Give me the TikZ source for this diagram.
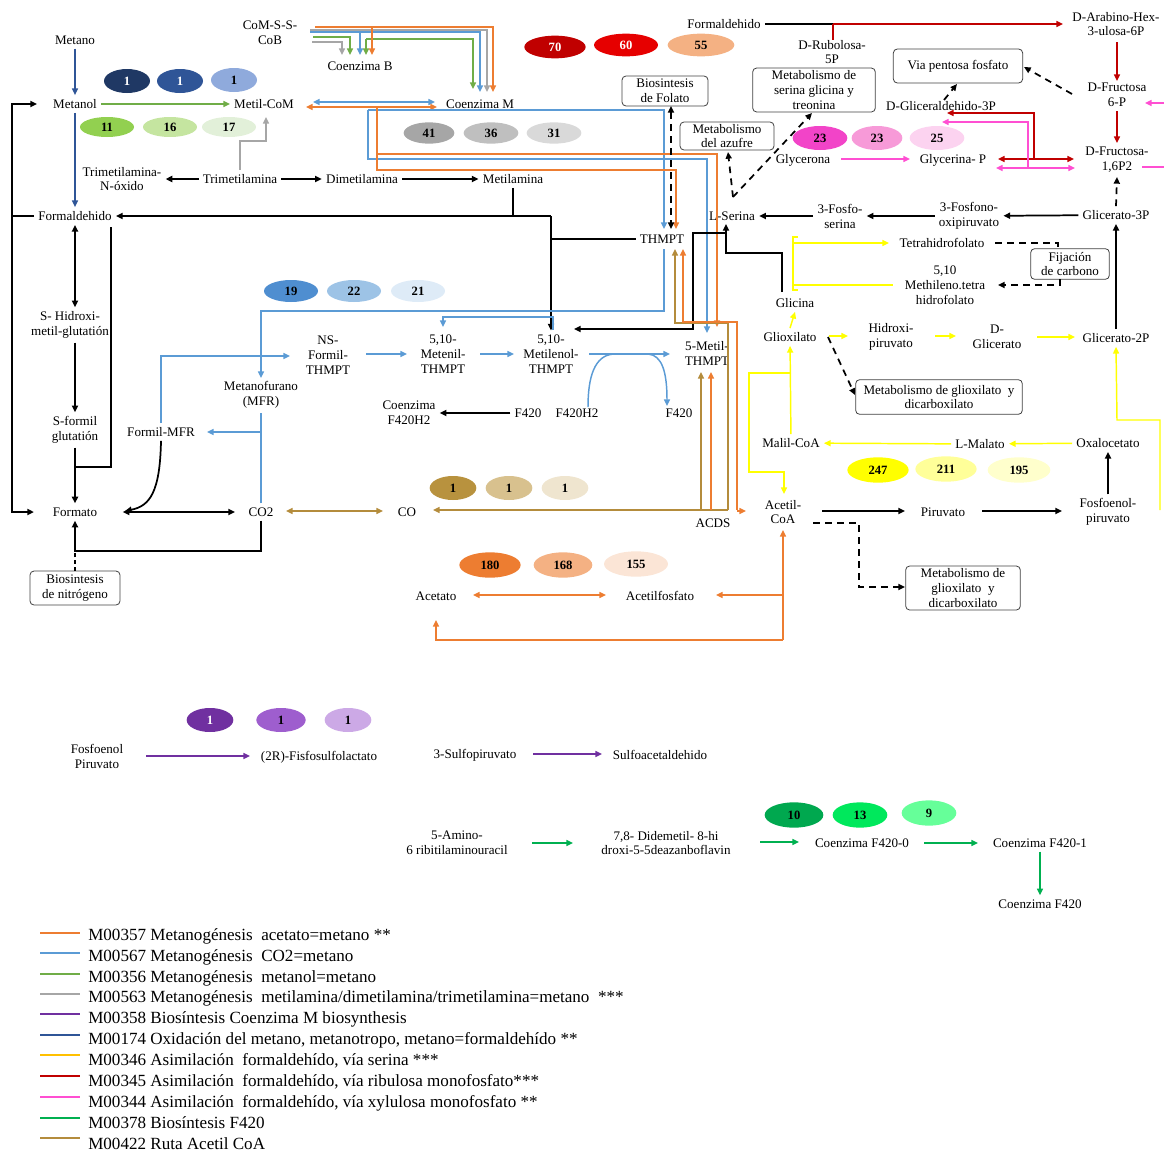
\documentclass[tikz,border=0pt]{standalone}
\usepackage{fontspec}
\setmainfont{Liberation Serif}
\usetikzlibrary{arrows.meta,shapes.geometric}
\definecolor{kOr}{HTML}{ED7D31}
\definecolor{kBl}{HTML}{5B9BD5}
\definecolor{kGr}{HTML}{70AD47}
\definecolor{kGy}{HTML}{A6A6A6}
\definecolor{kPu}{HTML}{7030A0}
\definecolor{kNv}{HTML}{2F5597}
\definecolor{kYe}{HTML}{FFFF00}
\definecolor{kYl}{HTML}{FFC000}
\definecolor{kRd}{HTML}{C00000}
\definecolor{kPk}{HTML}{FF4FD2}
\definecolor{kGn}{HTML}{00B050}
\definecolor{kBr}{HTML}{B48C3C}
% ellipse fills
\definecolor{q1}{HTML}{1F3864}\definecolor{q2}{HTML}{2F5597}\definecolor{q3}{HTML}{8FAADC}
\definecolor{q4}{HTML}{92D050}\definecolor{q5}{HTML}{C5E5A0}\definecolor{q6}{HTML}{E2F0D9}
\definecolor{q7}{HTML}{A6A6A6}\definecolor{q8}{HTML}{BFBFBF}\definecolor{q9}{HTML}{D9D9D9}
\definecolor{q10}{HTML}{C00000}\definecolor{q11}{HTML}{E60000}\definecolor{q12}{HTML}{F4B183}
\definecolor{q13}{HTML}{F244C8}\definecolor{q14}{HTML}{F79AD8}\definecolor{q15}{HTML}{FCD3F0}
\definecolor{q16}{HTML}{4F8ED0}\definecolor{q17}{HTML}{9DC3E6}\definecolor{q18}{HTML}{DEEBF7}
\definecolor{q19}{HTML}{B8923E}\definecolor{q20}{HTML}{D8C18E}\definecolor{q21}{HTML}{EFE5CF}
\definecolor{q22}{HTML}{ED7D31}\definecolor{q23}{HTML}{F4B183}\definecolor{q24}{HTML}{FBE5D6}
\definecolor{q25}{HTML}{FFFF00}\definecolor{q26}{HTML}{FFFF99}\definecolor{q27}{HTML}{FFFFCC}
\definecolor{q28}{HTML}{7030A0}\definecolor{q29}{HTML}{9E5ECE}\definecolor{q30}{HTML}{CCA9E6}
\definecolor{q31}{HTML}{00A84F}\definecolor{q32}{HTML}{00E85C}\definecolor{q33}{HTML}{66FF99}
\newcommand\txtf{\fontsize{9.8}{11.2}\selectfont}
\newcommand\legf{\fontsize{12.8}{15}\selectfont}
\begin{document}
\begin{tikzpicture}[x=0.75pt,y=-0.75pt,
  t/.style={font=\txtf,align=center,inner sep=3pt},
  bx/.style={draw=black!75,rounded corners=3pt,line width=0.6pt,font=\txtf,align=center,inner sep=1pt},
  el/.style n args={4}{ellipse,fill=#1,minimum width=#2,minimum height=#3,inner sep=0pt,text=#4,font=\bfseries\fontsize{9.5}{10}\selectfont},
  arr/.style={-{Triangle[length=5pt,width=4.5pt]}},
  darr/.style={{Triangle[length=5pt,width=4.5pt]}-{Triangle[length=5pt,width=4.5pt]}},
  sBk/.style={draw=black,line width=1.3pt},
  sDs/.style={draw=black,line width=1.3pt,dash pattern=on 5pt off 4pt},
  sOr/.style={draw=kOr,line width=1.1pt},
  sBl/.style={draw=kBl,line width=1.1pt},
  sGr/.style={draw=kGr,line width=1.1pt},
  sGy/.style={draw=kGy,line width=1.1pt},
  sPu/.style={draw=kPu,line width=1.1pt},
  sNv/.style={draw=kNv,line width=1.1pt},
  sYe/.style={draw=kYe,line width=1.1pt},
  sRd/.style={draw=kRd,line width=1.1pt},
  sPk/.style={draw=kPk,line width=1.1pt},
  sGn/.style={draw=kGn,line width=1.1pt},
  sBr/.style={draw=kBr,line width=1.1pt},
  lg/.style={font=\legf,anchor=west,inner sep=0pt}
]
\useasboundingbox (0,0) rectangle (1164,1153);

% ---------------- nodes ----------------
\node[t] (metano) at (75,40) {Metano};
\node[t] (metanol) at (75,104) {Metanol};
\node[t] (metilcom) at (264,104) {Metil-CoM};
\node[t] (tmao) at (122,179) {Trimetilamina-\\N-óxido};
\node[t] (tma) at (240,179) {Trimetilamina};
\node[t] (dma) at (362,179) {Dimetilamina};
\node[t] (mma) at (513,179) {Metilamina};
\node[t] (form) at (75,216) {Formaldehido};
\node[t] (cosscob) at (270,33) {CoM-S-S-\\CoB};
\node[t] (coB) at (360,66) {Coenzima B};
\node[t] (coM) at (480,104) {Coenzima M};
\node[t] (thmpt) at (662,239) {THMPT};
\node[t] (formtop) at (724,24) {Formaldehido};
\node[t] (rubulosa) at (832,52) {D-Rubolosa-\\5P};
\node[t] (arabino) at (1116,24) {D-Arabino-Hex-\\3-ulosa-6P};
\node[t] (fru6p) at (1117,95) {D-Fructosa\\6-P};
\node[t] (fru16) at (1117,160) {D-Fructosa-\\1,6P2};
\node[t] (gliceral) at (941,106) {D-Gliceraldehido-3P};
\node[t] (glycerona) at (803,160) {Glycerona};
\node[t] (glycerinap) at (953,160) {Glycerina- P};
\node[t] (lserina) at (732,216) {L-Serina};
\node[t] (fosfoserina) at (840,216) {3-Fosfo-\\serina};
\node[t] (fosfonoox) at (969,216) {3-Fosfono-\\oxipiruvato};
\node[t] (glic3p) at (1116,215) {Glicerato-3P};
\node[t] (thf) at (942,243) {Tetrahidrofolato};
\node[t] (mthf) at (945,285) {5,10\\Methileno.tetra\\hidrofolato};
\node[t] (glicina) at (795,303) {Glicina};
\node[t] (glioxilato) at (790,337) {Glioxilato};
\node[t] (hidroxipir) at (891,337) {Hidroxi-\\piruvato};
\node[t] (dglicerato) at (997,337) {D-\\Glicerato};
\node[t] (glic2p) at (1116,338) {Glicerato-2P};
\node[t] (malilcoa) at (791,443) {Malil-CoA};
\node[t] (lmalato) at (980,444) {L-Malato};
\node[t] (oxalo) at (1108,443) {Oxalocetato};
\node[t] (acetilcoa) at (783,512) {Acetil-\\CoA};
\node[t] (piruvato) at (943,512) {Piruvato};
\node[t] (pep) at (1108,512) {Fosfoenol-\\piruvato};
\node[t] (shidroxi) at (70,325) {S- Hidroxi-\\metil-glutatión};
\node[t] (sformil) at (75,430) {S-formil\\glutatión};
\node[t] (formato) at (75,512) {Formato};
\node[t] (formilmfr) at (161,432) {Formil-MFR};
\node[t] (mfr) at (261,395) {Metanofurano\\(MFR)};
\node[t] (co2) at (261,512) {CO2};
\node[t] (nsformil) at (328,355) {NS-\\Formil-\\THMPT};
\node[t] (metenil) at (443,354) {5,10-\\Metenil-\\THMPT};
\node[t] (metilenol) at (551,354) {5,10-\\Metilenol-\\THMPT};
\node[t] (metilthmpt) at (707,353) {5-Metil-\\THMPT};
\node[t] (cof420h2) at (409,413) {Coenzima\\F420H2};
\node[t] (f420a) at (528,413) {F420};
\node[t] (f420h2) at (577,413) {F420H2};
\node[t] (f420b) at (679,413) {F420};
\node[t] (co) at (407,512) {CO};
\node[t] (acds) at (713,523) {ACDS};
\node[t] (acetato) at (436,596) {Acetato};
\node[t] (acetilfosfato) at (660,596) {Acetilfosfato};
\node[t] (pep2) at (97,756) {Fosfoenol\\Piruvato};
\node[t] (fisfo) at (319,757) {(2R)-Fisfosulfolactato};
\node[t] (sulfopir) at (475,755) {3-Sulfopiruvato};
\node[t] (sulfoacet) at (660,755) {Sulfoacetaldehido};
\node[t] (amino) at (457,843) {5-Amino-\\6 ribitilaminouracil};
\node[t] (didemetil) at (666,843) {7,8- Didemetil- 8-hi\\droxi-5-5deazanboflavin};
\node[t] (f4200) at (862,843) {Coenzima F420-0};
\node[t] (f4201) at (1040,843) {Coenzima F420-1};
\node[t] (f420) at (1040,904) {Coenzima F420};

% boxes
\node[bx,minimum width=64.5pt,minimum height=22.5pt] (folato) at (665,91) {Biosintesis\\de Folato};
\node[bx,minimum width=70.5pt,minimum height=21pt] (azufre) at (727,136) {Metabolismo\\del azufre};
\node[bx,minimum width=92pt,minimum height=33pt] (serbox) at (814,90) {Metabolismo de\\serina glicina y\\treonina};
\node[bx,minimum width=97pt,minimum height=25.5pt] (pentosa) at (958,66) {Via pentosa fosfato};
\node[bx,minimum width=59pt,minimum height=23pt] (fijacion) at (1070,264) {Fijación\\de carbono};
\node[bx,minimum width=125pt,minimum height=26pt] (gbox1) at (939,397) {Metabolismo de glioxilato~ y\\dicarboxilato};
\node[bx,minimum width=86pt,minimum height=33pt] (gbox2) at (963,588) {Metabolismo de\\glioxilato~ y\\dicarboxilato};
\node[bx,minimum width=67.5pt,minimum height=25.5pt] (nitro) at (75,588) {Biosintesis\\de nitrógeno};

% ellipses
\node[el={q1}{34.5pt}{18pt}{white}] (e1) at (127,81) {1};
\node[el={q2}{34.5pt}{18pt}{white}] (e2) at (180,81) {1};
\node[el={q3}{34.5pt}{18pt}{black}] (e3) at (234,80) {1};
\node[el={q4}{40.5pt}{15pt}{black}] (e4) at (107,127) {11};
\node[el={q5}{40.5pt}{15pt}{black}] (e5) at (170,127) {16};
\node[el={q6}{40.5pt}{15pt}{black}] (e6) at (229,127) {17};
\node[el={q7}{38pt}{16pt}{black}] (e7) at (429,133) {41};
\node[el={q8}{41pt}{16pt}{black}] (e8) at (491,133) {36};
\node[el={q9}{41pt}{16pt}{black}] (e9) at (554,133) {31};
\node[el={q10}{46pt}{17pt}{white}] (e10) at (555,47) {70};
\node[el={q11}{48pt}{17pt}{white}] (e11) at (626,45) {60};
\node[el={q12}{50pt}{17pt}{black}] (e12) at (701,45) {55};
\node[el={q13}{41pt}{18pt}{black}] (e13) at (820,138) {23};
\node[el={q14}{38pt}{18pt}{black}] (e14) at (877,138) {23};
\node[el={q15}{41pt}{18pt}{black}] (e15) at (937,138) {25};
\node[el={q16}{40.5pt}{16.5pt}{black}] (e16) at (291,291) {19};
\node[el={q17}{40.5pt}{16.5pt}{black}] (e17) at (354,291) {22};
\node[el={q18}{40.5pt}{16.5pt}{black}] (e18) at (418,291) {21};
\node[el={q19}{35pt}{18pt}{black}] (e19) at (453,488) {1};
\node[el={q20}{35pt}{18pt}{black}] (e20) at (509,488) {1};
\node[el={q21}{35pt}{18pt}{black}] (e21) at (565,488) {1};
\node[el={q22}{46pt}{19pt}{black}] (e22) at (490,565) {180};
\node[el={q23}{44pt}{19pt}{black}] (e23) at (563,565) {168};
\node[el={q24}{48pt}{19pt}{black}] (e24) at (636,564) {155};
\node[el={q25}{46pt}{19pt}{black}] (e25) at (878,470) {247};
\node[el={q26}{46pt}{19pt}{black}] (e26) at (946,469) {211};
\node[el={q27}{47pt}{19pt}{black}] (e27) at (1019,470) {195};
\node[el={q28}{35pt}{18pt}{white}] (e28) at (210,720) {1};
\node[el={q29}{37pt}{18pt}{black}] (e29) at (281,720) {1};
\node[el={q30}{35pt}{18pt}{black}] (e30) at (348,720) {1};
\node[el={q31}{44pt}{19pt}{black}] (e31) at (794,815) {10};
\node[el={q32}{41pt}{19pt}{black}] (e32) at (860,815) {13};
\node[el={q33}{41pt}{19pt}{black}] (e33) at (929,813) {9};

% ---------------- connectors ----------------
% methane oxidation (navy)
\draw[sNv,arr] (metano) -- (metanol);
\draw[sNv,arr] (metanol) -- (form);
% methanol (green)
\draw[sGr,arr] (metanol) -- (metilcom);
% methylamines (gray)
\draw[sGy,arr] (tma.north) |- (266,141) -- (266,117);
\draw[sBk,arr] (tma) -- (tmao);
\draw[sBk,arr] (tma) -- (dma);
\draw[sBk,arr] (dma) -- (mma);
% black trunk
\coordinate (jA) at (551,216);
\draw[sBk] (mma.south) -- (513,216);
\draw[sBk,arr] (jA) -- (form.east);
\draw[sBk,arr] (jA) -- (metilenol.north);
\draw[sBk] (thmpt.west) -- (551,239);
\coordinate (jL) at (12,216);
\draw[sBk] (form.west) -- (jL);
\draw[sBk,arr,shorten >=9pt] (jL) |- (metanol.west);
\draw[sBk,arr,shorten >=11pt] (jL) |- (formato.west);
\draw[sBk,darr] (form.south) -- (form.south |- shidroxi.north);
\draw[sBk,arr] (sformil.north |- shidroxi.south) -- (sformil.north);
\draw[sBk,arr] (sformil) -- (formato);
\draw[sBk] (111,227) -- (111,467) -- (75,467);
\draw[sBk,arr] (formilmfr.south) .. controls (160,492) and (150,506) .. (125,511);
\draw[sBk,darr,shorten <=16pt,shorten >=7pt] (formato) -- (co2);
\draw[sBk,arr] (co2.south) |- (75,551) -- (formato.south);
\draw[sBk,densely dashed,line width=1pt] (nitro.north) -- (75,551);

% CoM-S-S-CoB distribution
\draw[sGy,arr] (312,42) -- (342,42) -- (342,55);
\draw[sGr,arr] (313,37) -- (350,37) -- (350,55);
\draw[sBl,arr] (310,32) -- (480,32) -- (480,92);
\draw[sBl,arr] (360,32) -- (360,55);
\draw[sGr,arr] (366,39) -- (366,55);
\draw[sGr,arr] (366,39) -- (473,39) -- (473,89);
\draw[sGy,arr] (310,30) -- (487,30) -- (487,92);
\draw[sOr,arr] (315,27) -- (493,27) -- (493,92);
\draw[sOr,arr] (372,27) -- (372,55);
% Metil-CoM <-> Coenzima M
\draw[sBl,darr] (313,102) -- (435,102);
\draw[sOr,darr] (306,107) -- (437,107);
% long routes to THMPT
\draw[sBl,arr] (368,110) -- (664,110) -- (664,229);
\draw[sBl,arr] (368,110) -- (368,159) -- (707,159) -- (707,333);
\draw[sOr,arr] (377,107) -- (377,170) -- (676,170) -- (676,229);
\draw[sOr,arr] (377,154) -- (717,154) -- (717,327);
\draw[sDs,darr] (671,106) -- (671,229);
% CO2 reduction (blue)
\draw[sBl] (co2.north) -- (mfr.south);
\draw[sBl,arr] (261,432) -- (207,432);
\draw[sBl,arr] (formilmfr.north) |- (290,356);
\draw[sBl,arr] (366,354) -- (407,354);
\draw[sBl,arr] (480,354) -- (514,354);
\draw[sBl,arr] (589,354) -- (670,354);
\draw[sBl] (588,407) .. controls (588,378) and (594,355) .. (614,354);
\draw[sBl,arr] (648,354) .. controls (662,355) and (667,372) .. (667,406);
\draw[sBl,arr] (553,330) -- (553,317) -- (443,317) -- (443,327);
\draw[sBl,arr] (664,249) -- (664,311) -- (261,311) -- (261,378);
\draw[sBk,arr] (f420a) -- (cof420h2);
% Glicina / L-Serina
\draw[sBk,arr] (782,292) -- (782,253) -- (726,253) -- (726,224);
\draw[sBk,arr] (726,233) -- (693,233) -- (693,329) -- (574,329);
% ACDS routes
\draw[sBr,darr] (286,511) -- (383,511);
\draw[sBr,arr] (728,510) -- (433,510);
\draw[sBr,arr] (701,510) -- (701,372);
\draw[sBr,arr] (728,510) -- (728,323) -- (675,323) -- (675,249);
\draw[sOr,arr] (711,510) -- (711,372);
\draw[sOr,arr] (737,510) -- (737,322) -- (683,322) -- (683,249);
\draw[sOr,arr] (737,511) -- (746,511);
% acetate (orange)
\draw[sOr,arr] (783,640) -- (783,530);
\draw[sOr,arr] (783,595) -- (716,595);
\draw[sOr,arr] (783,640) -- (436,640) -- (436,620);
\draw[sOr,darr] (473,595) -- (606,595);

% RuMP (red) / XuMP (pink)
\draw[sBk] (formtop.east) -- (833,24);
\draw[sRd,arr] (833,24) -- (1063,24);
\draw[sRd] (833,24) -- (833,40);
\draw[sRd,arr] (1117,42) -- (1117,81);
\draw[sRd,arr] (fru6p) -- (fru16);
\draw[sRd,darr] (998,159) -- (1074,159);
\draw[sRd,arr] (1034,159) -- (1034,113) -- (947,113);
\draw[sPk,darr] (996,168) -- (1075,168);
\draw[sPk,arr] (1028,168) -- (1028,122) -- (942,122);
\draw[sPk,arr] (841,159) -- (910,159);
\draw[sPk,arr] (1164,103) -- (1145,103);
\draw[sPk] (1142,167) -- (1164,167);
% dashed relations
\draw[sDs,arr] (1072,94) -- (1024,67);
\draw[sDs,arr] (944,100) -- (957,84);
\draw[sDs,arr] (733,197) -- (728,152);
\draw[sDs,arr] (733,197) -- (812,113);
\draw[sDs,arr] (glic3p.north) -- (fru16.south);
\draw[sDs] (995,243) -- (1058,243) -- (1058,249);
\draw[sDs,arr] (1060,279) -- (1060,285) -- (998,285);
\draw[sDs,arr] (828,337) -- (855,395);
\draw[sDs,arr] (813,523) -- (859,523) -- (859,587) -- (905,587);
% serine pathway (black)
\draw[sBk,arr] (fosfoserina) -- (lserina);
\draw[sBk,arr] (fosfonoox) -- (fosfoserina);
\draw[sBk,arr] (glic3p) -- (fosfonoox);
\draw[sBk,arr] (glic2p) -- (glic3p);
\draw[sBk,arr] (pep) -- (oxalo);
\draw[sBk,arr] (822,511) -- (905,511);
\draw[sBk,arr] (982,511) -- (1062,511);
% serine pathway (yellow)
\draw[sYe] (798,237) -- (793,237) -- (793,290) -- (798,290);
\draw[sYe,arr] (793,243) -- (889,243);
\draw[sYe] (793,285) -- (893,285);
\draw[sYe,arr] (glioxilato.north) -- (glicina.south);
\draw[sYe,arr] (829,336) -- (848,336);
\draw[sYe,arr] (935,336) -- (956,336);
\draw[sYe,arr] (1037,337) -- (1075,337);
\draw[sYe,arr] (oxalo) -- (lmalato);
\draw[sYe,arr] (lmalato) -- (malilcoa);
\draw[sYe,arr] (malilcoa) -- (glioxilato);
\draw[sYe,arr] (791,373) -- (749,373) -- (749,472) -- (784,472) -- (784,494);
\draw[sYe,arr] (1160,510) -- (1160,420) -- (1117,420) -- (glic2p.south);
% coenzyme M biosynthesis (purple)
\draw[sPu,arr] (146,756) -- (250,756);
\draw[sPu,arr] (533,754) -- (602,754);
% F420 (green)
\draw[sGn,arr] (532,843) -- (573,843);
\draw[sGn,arr] (760,842) -- (799,842);
\draw[sGn,arr] (924,843) -- (978,843);
\draw[sGn,arr] (f4201) -- (f420);

% ---------------- legend ----------------
\foreach \c/\ly/\ty/\tx [count=\i] in {
 kOr/933/936/{M00357 Metanogénesis\ \ acetato=metano **},
 kBl/953/957/{M00567 Metanogénesis\ \ CO2=metano},
 kGr/974/978/{M00356 Metanogénesis\ \ metanol=metano},
 kGy/994/998/{M00563 Metanogénesis\ \ metilamina/dimetilamina/trimetilamina=metano\ \ ***},
 kPu/1014/1019/{M00358 Biosíntesis Coenzima M biosynthesis},
 kNv/1035/1040/{M00174 Oxidación del metano, metanotropo, metano=formaldehído **},
 kYl/1055/1061/{M00346 Asimilación\ \ formaldehído, vía serina ***},
 kRd/1076/1082/{M00345 Asimilación\ \ formaldehído, vía ribulosa monofosfato***},
 kPk/1097/1103/{M00344 Asimilación\ \ formaldehído, vía xylulosa monofosfato **},
 kGn/1118/1123/{M00378 Biosíntesis F420},
 kBr/1138/1144/{M00422 Ruta Acetil CoA}}
{
 \coordinate (la\i) at (40,\ly);
 \coordinate (lb\i) at (80,\ly);
 \draw[draw=\c,line width=1.3pt] (la\i) -- (lb\i);
 \node[lg] (lt\i) at (88,\ty) {\tx};
}
\end{tikzpicture}
\end{document}
